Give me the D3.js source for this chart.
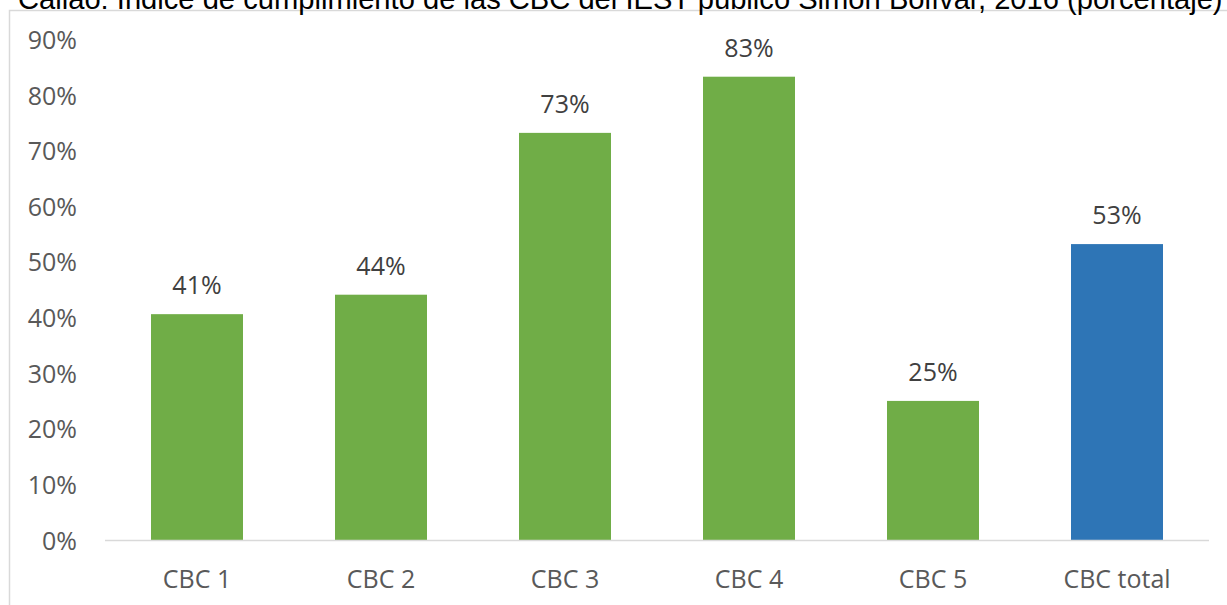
<!DOCTYPE html>
<html>
<head>
<meta charset="utf-8">
<script src="https://cdn.jsdelivr.net/npm/d3@7"></script>
<style>
  body { margin: 0; background: #fff; }
  svg { display: block; }
</style>
</head>
<body>
<svg id="chart"></svg>
<script>
// datos del grafico
var categorias = ['CBC 1', 'CBC 2', 'CBC 3', 'CBC 4', 'CBC 5', 'CBC total'];
var valores = [0.407, 0.442, 0.733, 0.834, 0.251, 0.533];
var colores = ['#70AD47', '#70AD47', '#70AD47', '#70AD47', '#70AD47', '#2E75B6'];
var ticksY = [0, 0.1, 0.2, 0.3, 0.4, 0.5, 0.6, 0.7, 0.8, 0.9];
var titulo = 'Callao: Índice de cumplimiento de las CBC del IEST público Simón Bolívar, 2016 (porcentaje)';

var W = 1227, H = 605;
var svg = d3.select('#chart').attr('width', W).attr('height', H);

// marco del area del grafico
svg.append('rect')
  .attr('x', 9.5).attr('y', 10.5)
  .attr('width', W + 20).attr('height', H + 20)
  .attr('fill', '#fff')
  .attr('stroke', '#d9d9d9')
  .attr('stroke-width', 1.5);

// titulo (cortado arriba como en la imagen)
var t = svg.append('text')
  .attr('x', 18).attr('y', 9)
  .attr('font-family', 'Liberation Sans, Arial, sans-serif')
  .attr('font-size', 24)
  .attr('fill', '#000')
  .text(titulo);
var w0 = t.node().getComputedTextLength();
t.attr('font-size', 24 * 1205 / w0);

var x = d3.scaleBand()
  .domain(categorias)
  .range([105, 1209])
  .paddingInner(0.5)
  .paddingOuter(0.25);

var y = d3.scaleLinear()
  .domain([0, 0.9])
  .range([540.5, 40]);

var fuente = 'Open Sans, Noto Sans, sans-serif';
var tam = 25;

// etiquetas eje Y
svg.selectAll('.tick-y')
  .data(ticksY)
  .enter()
  .append('text')
  .attr('class', 'tick-y')
  .attr('x', 77)
  .attr('y', function (d) { return y(d) + 9; })
  .attr('text-anchor', 'end')
  .attr('font-family', fuente)
  .attr('font-size', tam)
  .attr('fill', '#595959')
  .text(function (d) { return d3.format('.0%')(d); });

// barras
svg.selectAll('.bar')
  .data(valores)
  .enter()
  .append('rect')
  .attr('class', 'bar')
  .attr('x', function (d, i) { return x(categorias[i]); })
  .attr('y', function (d) { return y(d); })
  .attr('width', x.bandwidth())
  .attr('height', function (d) { return y(0) - y(d); })
  .attr('fill', function (d, i) { return colores[i]; });

// linea base
svg.append('line')
  .attr('x1', 105).attr('x2', 1209)
  .attr('y1', y(0)).attr('y2', y(0))
  .attr('stroke', '#d9d9d9')
  .attr('stroke-width', 1.5);

// etiquetas de datos
svg.selectAll('.lbl')
  .data(valores)
  .enter()
  .append('text')
  .attr('class', 'lbl')
  .attr('x', function (d, i) { return x(categorias[i]) + x.bandwidth() / 2; })
  .attr('y', function (d) { return y(d) - 20; })
  .attr('text-anchor', 'middle')
  .attr('font-family', fuente)
  .attr('font-size', tam)
  .attr('fill', '#404040')
  .text(function (d) { return d3.format('.0%')(d); });

// categorias eje X
svg.selectAll('.cat')
  .data(categorias)
  .enter()
  .append('text')
  .attr('class', 'cat')
  .attr('x', function (d) { return x(d) + x.bandwidth() / 2; })
  .attr('y', 588)
  .attr('text-anchor', 'middle')
  .attr('font-family', fuente)
  .attr('font-size', tam)
  .attr('fill', '#595959')
  .text(function (d) { return d; });
</script>
</body>
</html>
